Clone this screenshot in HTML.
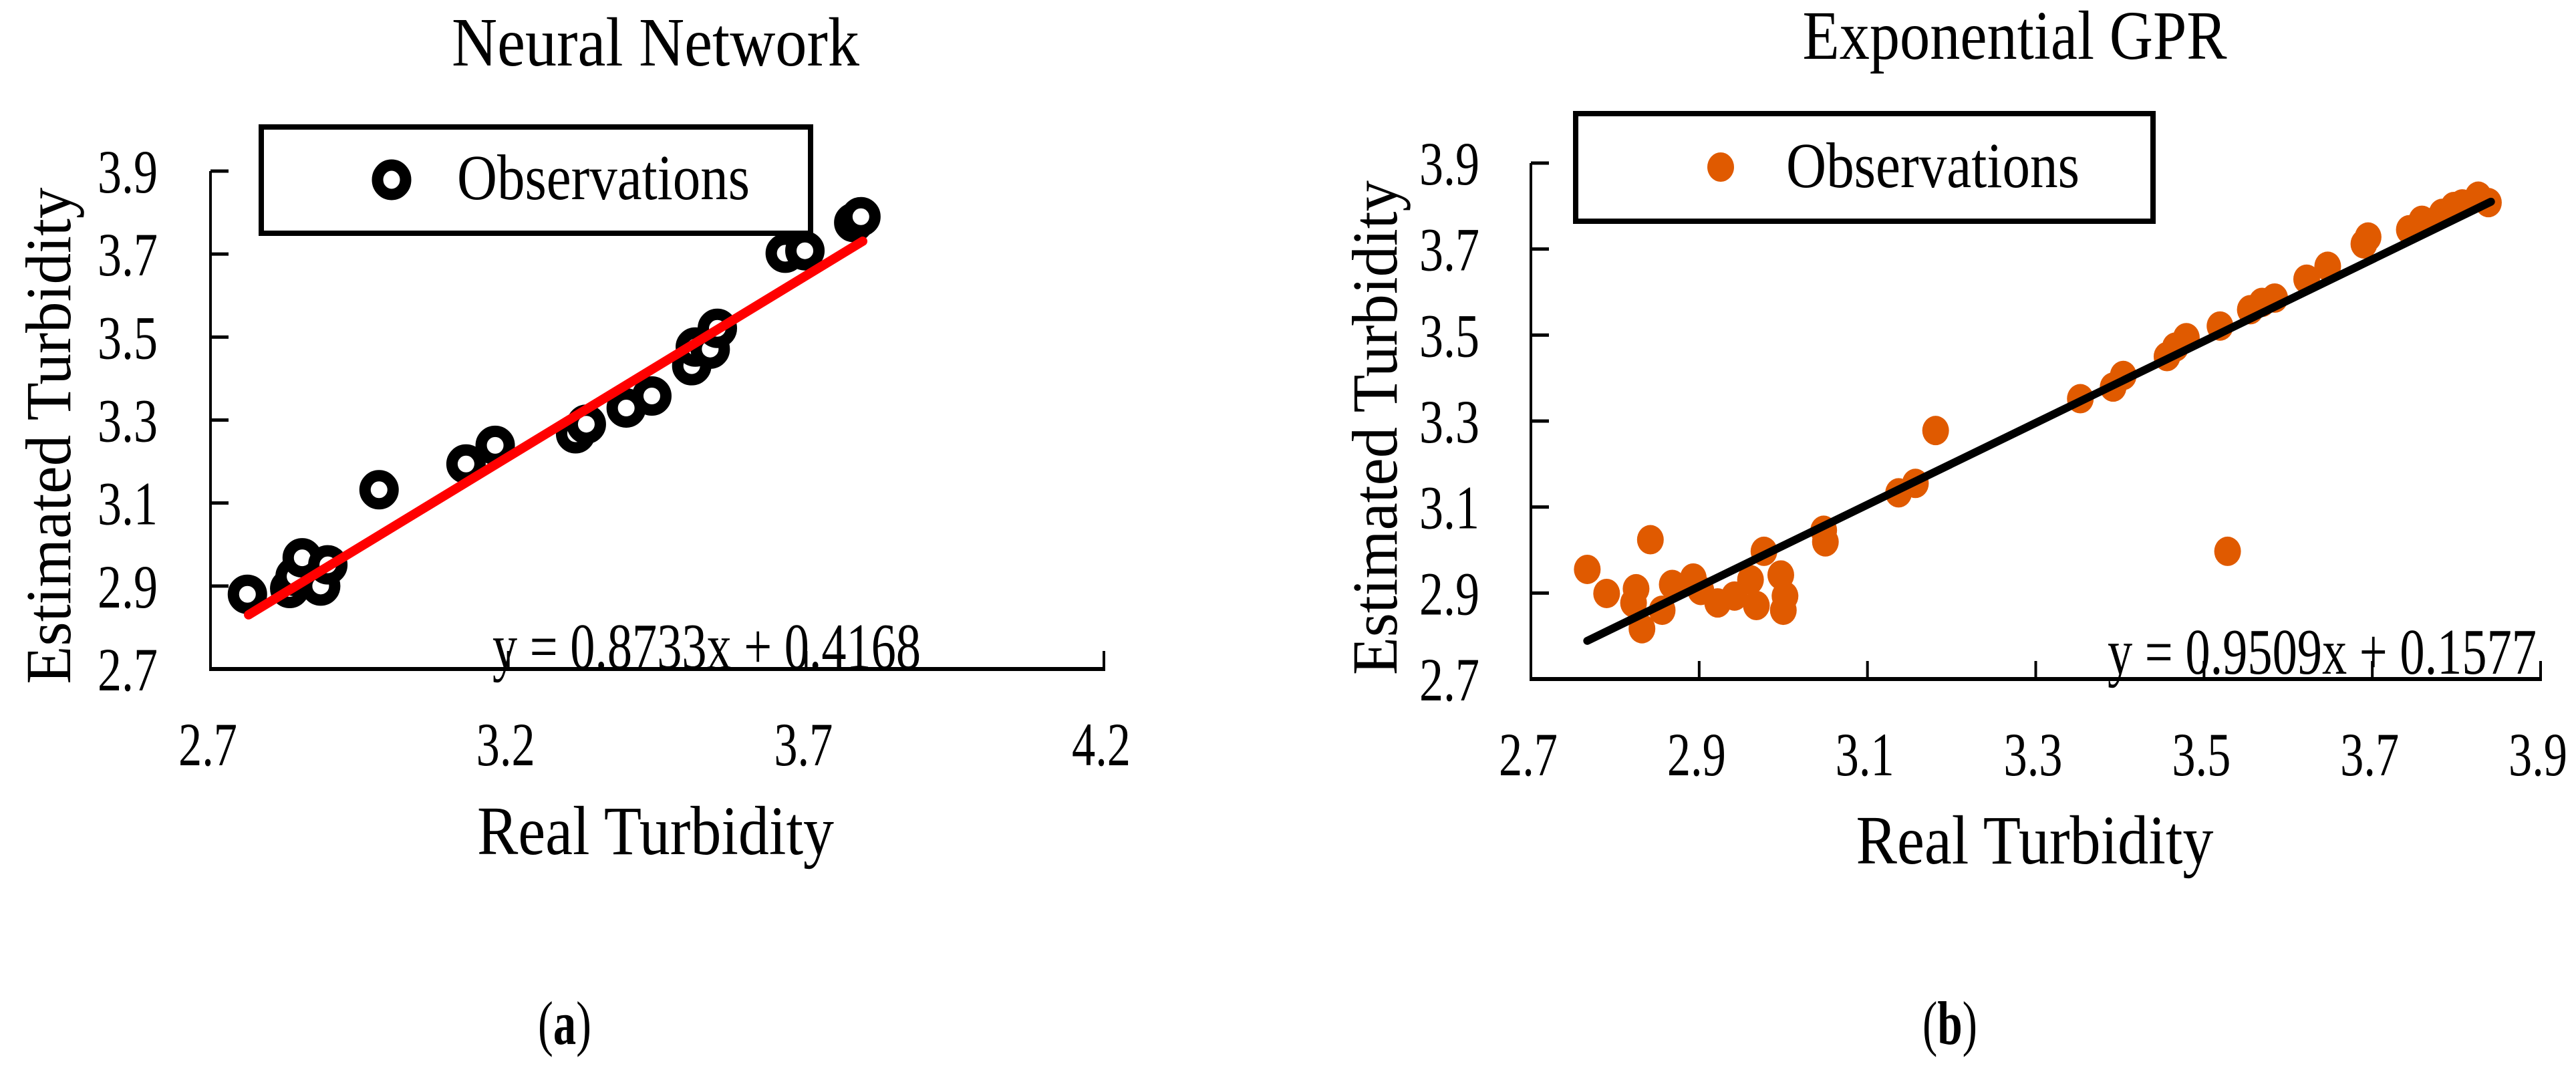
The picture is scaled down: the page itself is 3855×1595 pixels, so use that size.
<!DOCTYPE html>
<html><head><meta charset="utf-8"><style>
html,body{margin:0;padding:0;background:#fff;}
svg{display:block;font-family:"Liberation Serif",serif;}
</style></head><body>
<svg id="fig" width="3855" height="1595" viewBox="0 0 3855 1595" xmlns="http://www.w3.org/2000/svg">
<rect width="3855" height="1595" fill="#fff"/>
<g id="pa"></g>
<g id="pb"></g>
<text x="845" y="1562" font-size="92" text-anchor="middle" textLength="80" lengthAdjust="spacingAndGlyphs">(<tspan font-weight="bold">a</tspan>)</text>
<text x="2918" y="1562" font-size="92" text-anchor="middle" textLength="82" lengthAdjust="spacingAndGlyphs">(<tspan font-weight="bold">b</tspan>)</text>
</svg>
<script>
// Panel A data
const aX = [2.762,2.833,2.842,2.854,2.885,2.897,2.983,3.129,3.178,3.313,3.331,3.398,3.441,3.508,3.514,3.539,3.551,3.665,3.698,3.780,3.792];
const aY = [2.880,2.894,2.923,2.968,2.900,2.951,3.132,3.194,3.239,3.267,3.290,3.329,3.358,3.431,3.476,3.471,3.521,3.702,3.708,3.776,3.790];
const aXTicks = [2.7,3.2,3.7,4.2];
const aYTicks = [2.7,2.9,3.1,3.3,3.5,3.7,3.9];
const aFit = [0.8733,0.4168];
const aFitRange = [2.764,3.795];
// Panel B data
const bX = [2.767,2.790,2.825,2.822,2.832,2.842,2.856,2.868,2.893,2.902,2.922,2.942,2.961,2.968,2.977,2.997,3.002,3.000,3.048,3.050,3.137,3.157,3.181,3.353,3.392,3.404,3.456,3.466,3.479,3.519,3.528,3.555,3.569,3.584,3.622,3.647,3.690,3.695,3.744,3.759,3.783,3.797,3.807,3.826,3.838];
const bY = [2.955,2.899,2.910,2.877,2.817,3.024,2.860,2.920,2.935,2.906,2.877,2.893,2.931,2.871,2.997,2.942,2.893,2.860,3.046,3.019,3.133,3.155,3.278,3.352,3.379,3.406,3.450,3.472,3.494,3.521,2.997,3.559,3.576,3.586,3.630,3.660,3.712,3.728,3.745,3.767,3.783,3.799,3.805,3.823,3.808];
const bXTicks = [2.7,2.9,3.1,3.3,3.5,3.7,3.9];
const bYTicks = [2.7,2.9,3.1,3.3,3.5,3.7,3.9];
const bFit = [0.9509,0.1577];
const bFitRange = [2.767,3.841];

const NS="http://www.w3.org/2000/svg";
function mk(parent,tag,attrs,txt){const e=document.createElementNS(NS,tag);for(const k in attrs)e.setAttribute(k,attrs[k]);if(txt!==undefined)e.textContent=txt;parent.appendChild(e);return e;}

function panel(g,cfg){
  const sx=v=>cfg.x0+(v-cfg.xmin)/(cfg.xmax-cfg.xmin)*(cfg.x1-cfg.x0);
  const sy=v=>cfg.y0-(v-cfg.ymin)/(cfg.ymax-cfg.ymin)*(cfg.y0-cfg.y1);
  let e;
  e=mk(g,'text',{x:cfg.titleX,y:cfg.titleY,'font-size':104,'text-anchor':'middle',textLength:cfg.titleW,lengthAdjust:'spacingAndGlyphs'},cfg.title);
  
  
  e=mk(g,'line',{x1:cfg.x0,y1:cfg.y0,x2:cfg.x0,y2:cfg.y1,stroke:'#000','stroke-width':4});
  
  
  e=mk(g,'line',{x1:cfg.x0-2,y1:cfg.y0,x2:cfg.x1+2,y2:cfg.y0,stroke:'#000','stroke-width':6});
  
  
  cfg.yTicks.forEach(t=>{
    const y=sy(t);
    e=mk(g,'line',{x1:cfg.x0,y1:y,x2:cfg.x0+27,y2:y,stroke:'#000','stroke-width':5});
    
    
    e=mk(g,'text',{x:cfg.yLabR,y:y+32,'font-size':92,'text-anchor':'end',textLength:90,lengthAdjust:'spacingAndGlyphs'},t.toFixed(1));
    
    
  });
  cfg.xTicks.forEach(t=>{
    const x=sx(t);
    if(t>cfg.xmin){
      e=mk(g,'line',{x1:x,y1:cfg.y0,x2:x,y2:cfg.y0-27,stroke:'#000','stroke-width':4});
      
      
    }
    e=mk(g,'text',{x:x-4,y:cfg.xLabY,'font-size':92,'text-anchor':'middle',textLength:88,lengthAdjust:'spacingAndGlyphs'},t.toFixed(1));
    
    
  });
  e=mk(g,'text',{x:cfg.xTitleX,y:cfg.xTitleY,'font-size':104,'text-anchor':'middle',textLength:cfg.xTitleW,lengthAdjust:'spacingAndGlyphs'},'Real Turbidity');
  
  
  e=mk(g,'text',{x:0,y:0,'font-size':96,'text-anchor':'middle',textLength:cfg.yTitleH,lengthAdjust:'spacingAndGlyphs',transform:`translate(${cfg.yTitleX},${cfg.yTitleY}) rotate(-90)`},'Estimated Turbidity');
  
  
  const pg=mk(g,'g',{});
  
  
  cfg.xs.forEach((xv,i)=>{
    const cx=sx(xv),cy=sy(cfg.ys[i]);
    if(cfg.ring){
      e=mk(pg,'circle',{cx:cx,cy:cy,r:21,fill:'#fff',stroke:'#000','stroke-width':17});
    } else {
      e=mk(pg,'ellipse',{cx:cx,cy:cy,rx:20,ry:22,fill:'#e05a00'});
    }
    
    
  });
  e=mk(g,'line',{x1:sx(cfg.fr[0]),y1:sy(cfg.fit[0]*cfg.fr[0]+cfg.fit[1]),x2:sx(cfg.fr[1]),y2:sy(cfg.fit[0]*cfg.fr[1]+cfg.fit[1]),stroke:cfg.lineColor,'stroke-width':cfg.lineW,'stroke-linecap':'round'});
  
  
  e=mk(g,'text',{x:cfg.eqX,y:cfg.eqY,'font-size':98,textLength:cfg.eqW,lengthAdjust:'spacingAndGlyphs'},cfg.eq);
  
  
  const lg=mk(g,'g',{});
  
  
  const L=cfg.leg;
  e=mk(lg,'rect',{x:L[0],y:L[1],width:L[2]-L[0],height:L[3]-L[1],fill:'#fff',stroke:'#000','stroke-width':8});
  
  
  if(cfg.ring) e=mk(lg,'ellipse',{cx:cfg.mk[0],cy:cfg.mk[1],rx:21,ry:22,fill:'#fff',stroke:'#000','stroke-width':17});
  else e=mk(lg,'ellipse',{cx:cfg.mk[0],cy:cfg.mk[1],rx:20,ry:22,fill:'#e05a00'});
  
  
  e=mk(lg,'text',{x:cfg.lt[0],y:cfg.lt[1],'font-size':96,textLength:cfg.lt[2],lengthAdjust:'spacingAndGlyphs'},'Observations');
  
  
}

panel(document.getElementById('pa'),{
  xmin:2.7,xmax:4.2,ymin:2.7,ymax:3.9,x0:315,x1:1652,y0:1001,y1:256,
  xTicks:aXTicks,yTicks:aYTicks,xs:aX,ys:aY,fit:aFit,fr:aFitRange,ring:true,
  lineColor:'#ff0000',lineW:14,
  title:'Neural Network',titleX:981,titleY:98,titleW:610,
  yLabR:236,xLabY:1145,xTitleX:981,xTitleY:1278,xTitleW:534,
  yTitleX:105,yTitleY:652,yTitleH:743,
  eq:'y = 0.8733x + 0.4168',eqX:737,eqY:1000,eqW:641,
  leg:[391,190,1213,349],mk:[586,269],lt:[684,298,438]
});
panel(document.getElementById('pb'),{
  xmin:2.7,xmax:3.9,ymin:2.7,ymax:3.9,x0:2291,x1:3802,y0:1016,y1:244,
  xTicks:bXTicks,yTicks:bYTicks,xs:bX,ys:bY,fit:bFit,fr:bFitRange,ring:false,
  lineColor:'#000',lineW:12,
  title:'Exponential GPR',titleX:3015,titleY:88,titleW:635,
  yLabR:2214,xLabY:1160,xTitleX:3045,xTitleY:1292,xTitleW:535,
  yTitleX:2090,yTitleY:640,yTitleH:740,
  eq:'y = 0.9509x + 0.1577',eqX:3154,eqY:1008,eqW:642,
  leg:[2358,170,3222,331],mk:[2575,250],lt:[2673,280,439]
});
</script>
</body></html>
